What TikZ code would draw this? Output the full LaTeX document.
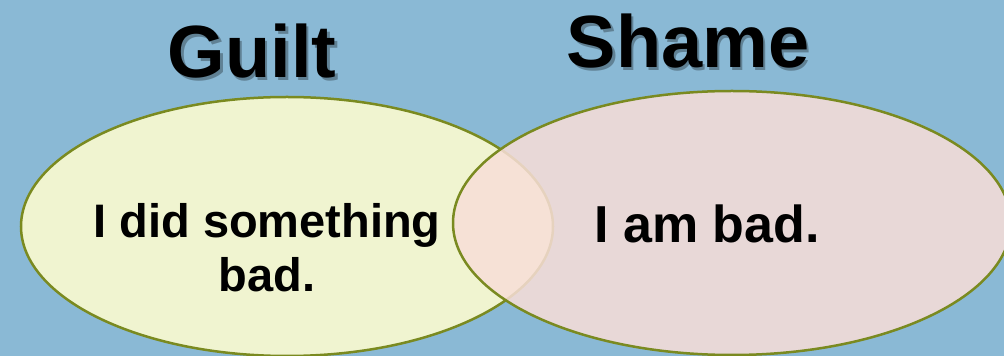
\documentclass[tikz,border=0pt]{standalone}
\usepackage{fontspec}
\setmainfont{Liberation Sans}
\usepackage{tikz}
\usetikzlibrary{positioning}

\definecolor{skyback}{RGB}{138,185,213}
\definecolor{oliveline}{RGB}{122,138,32}
\definecolor{guiltfill}{RGB}{240,244,208}
\definecolor{shamefill}{RGB}{248,222,216}

\tikzset{
  title/.style={font=\fontsize{74}{80}\selectfont\bfseries, inner sep=0pt, anchor=base},
  titleshadow/.style={title, text=black, text opacity=0.3},
  body/.style={font=\fontsize{47}{54}\selectfont\bfseries, inner sep=0pt, align=center}
}

\begin{document}
\begin{tikzpicture}[x=1pt,y=1pt]
    % Background
    \fill[skyback] (0,0) rectangle (1004,356);
    \useasboundingbox (0,0) rectangle (1004,356);

    % Circles
    \filldraw[fill=guiltfill,draw=oliveline,line width=2.5pt] (287,129.5) ellipse (266 and 129.5);
    \fill[shamefill,opacity=0.86] (732,133) ellipse (279 and 132);
    \draw[oliveline,line width=2.5pt] (732,133) ellipse (279 and 132);

    % Titles
    \node[titleshadow] (guiltshadow) at (254.5,275.5) {Guilt};
    \node[title] (guilt) at (252,278) {Guilt};
    \node[titleshadow] (shameshadow) at (690.5,285.5) {Shame};
    \node[title] (shame) at (688,288) {Shame};

    % Texts
    \node[body,anchor=base] (guilttext) at (267,64) {I did something\\bad.};
    \node[body,font=\fontsize{52}{60}\selectfont\bfseries,anchor=base] (shametext) at (707,113) {I am bad.};
\end{tikzpicture}
\end{document}
